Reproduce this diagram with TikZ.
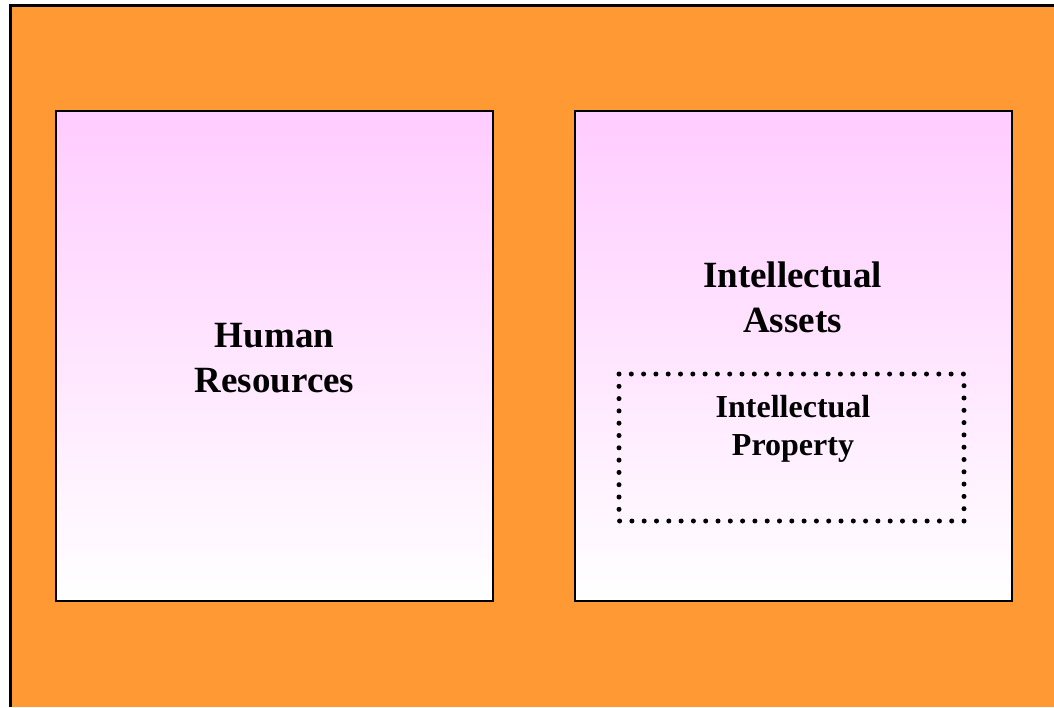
\documentclass[tikz,border=0pt]{standalone}
\usepackage{fontspec}
\setmainfont{Liberation Serif}
\definecolor{bgorange}{HTML}{FF9933}
\definecolor{boxpink}{HTML}{FFCCFF}
\tikzset{
  panel/.style={draw=black, line width=1.6pt, top color=boxpink, bottom color=white, shading angle=0},
  bigtext/.style={font=\bfseries\fontsize{37}{45}\selectfont, align=center, inner sep=0pt, anchor=base},
  smalltext/.style={font=\bfseries\fontsize{32}{38}\selectfont, align=center, inner sep=0pt, anchor=base},
  dotbox/.style={draw=black, line width=5pt, line cap=round, dash pattern=on 0pt off 12.3pt}
}
\begin{document}
\begin{tikzpicture}[x=1pt,y=-1pt]
\useasboundingbox (0,0) rectangle (1054,707);
\fill[white] (0,0) rectangle (1054,707);
\fill[bgorange] (9,4) rectangle (1054,707);
\draw[line width=3pt] (10.5,707) -- (10.5,5.5) -- (1054,5.5);
\path[panel] (56,111) rectangle (493,601);
\path[panel] (575,111) rectangle (1012,601);
\node[bigtext] (hr) at (274.5,392) {Human\\Resources};
\node[bigtext] (ia) at (792.5,332) {Intellectual\\Assets};
\draw[dotbox] (619,374) rectangle (964,521);
\node[smalltext] (ip) at (793,455) {Intellectual\\Property};
\end{tikzpicture}
\end{document}
